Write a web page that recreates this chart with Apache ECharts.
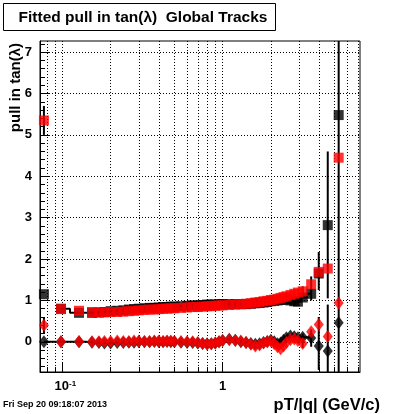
<!DOCTYPE html>
<html><head><meta charset="utf-8">
<script src="https://cdn.jsdelivr.net/npm/echarts@6/dist/echarts.min.js"></script>
<style>html,body{margin:0;padding:0;background:#fff}#c{width:400px;height:414px}</style>
</head><body><div id="c"></div>
<script>
// ---- data ----
const pT = [0.0767, 0.098, 0.127, 0.153, 0.169, 0.183, 0.20, 0.22, 0.24, 0.26, 0.28, 0.30, 0.325, 0.35, 0.375, 0.40, 0.425, 0.45, 0.475, 0.50,
  0.55, 0.60, 0.65, 0.70, 0.75, 0.80, 0.85, 0.90, 0.95, 1.0, 1.1, 1.2, 1.3, 1.4, 1.5, 1.6, 1.7, 1.8, 1.9, 2.0,
  2.1, 2.2, 2.3, 2.4, 2.5, 2.65, 2.8, 2.95, 3.16, 3.57, 3.98, 4.53, 5.3];
const redSigma = [5.35, 0.79, 0.75, 0.72, 0.71, 0.71, 0.72, 0.72, 0.73, 0.74, 0.75, 0.76, 0.77, 0.78, 0.78, 0.79, 0.80, 0.80, 0.81, 0.81,
  0.82, 0.83, 0.84, 0.84, 0.85, 0.86, 0.86, 0.87, 0.88, 0.88, 0.89, 0.90, 0.91, 0.92, 0.93, 0.95, 0.96, 0.98, 0.99, 1.01,
  1.02, 1.04, 1.06, 1.08, 1.10, 1.13, 1.16, 1.19, 1.22, 1.39, 1.69, 1.77, 4.45];
const blackSigma = [1.15, 0.80, 0.70, 0.70, 0.71, 0.72, 0.74, 0.75, 0.76, 0.78, 0.79, 0.80, 0.81, 0.82, 0.82, 0.83, 0.84, 0.84, 0.85, 0.85,
  0.86, 0.87, 0.88, 0.88, 0.89, 0.90, 0.90, 0.90, 0.91, 0.91, 0.91, 0.91, 0.91, 0.91, 0.92, 0.93, 0.94, 0.95, 0.96, 0.98,
  0.99, 1.00, 1.01, 1.02, 1.03, 1.00, 0.98, 0.97, 1.07, 1.16, 1.65, 2.82, 5.48];
const redMean = [0.40, 0.00, 0.01, 0.00, 0.00, 0.01, 0.01, 0.02, 0.01, 0.01, 0.02, 0.02, 0.01, 0.01, 0.02, 0.02, 0.01, 0.02, 0.02, 0.01,
  0.01, 0.00, 0.00, -0.02, -0.04, -0.06, -0.05, -0.03, 0.00, 0.03, 0.05, 0.03, 0.02, -0.02, -0.06, -0.10, -0.08, -0.03, 0.00, 0.02,
  -0.05, -0.12, -0.17, -0.10, -0.02, 0.05, 0.07, 0.03, -0.04, 0.24, 0.42, 0.13, 0.94];
const blackMean = [0.00, 0.00, 0.00, -0.01, -0.02, -0.03, -0.03, -0.02, -0.02, -0.01, -0.01, 0.00, 0.00, 0.00, 0.01, 0.00, 0.00, 0.01, 0.00, 0.00,
  -0.01, -0.02, -0.02, -0.03, -0.04, -0.05, -0.05, -0.03, 0.00, 0.03, 0.06, 0.04, 0.00, -0.02, -0.04, -0.06, -0.05, -0.02, 0.01, 0.04,
  0.00, -0.05, -0.03, 0.04, 0.10, 0.14, 0.12, 0.10, 0.11, 0.09, -0.10, -0.22, 0.46];
// vertical error bars: [pT, low, high]
const errorBars = [[0.0767, 5.0, 5.7], [0.0767, 0.2, 0.6], [3.16, 1.1, 1.34], [3.16, -0.15, 0.2], [3.57, 1.0, 1.58], [3.57, -0.12, 0.3],
  [3.98, 1.25, 2.17], [3.98, -0.68, 0.6], [4.53, 1.05, 4.6], [4.53, -1.5, 0.9], [5.3, -1.5, 8.5]];
// axis ticks / grid
const xGrid = [0.08, 0.09, 0.1, 0.2, 0.3, 0.4, 0.5, 0.6, 0.7, 0.8, 0.9, 1, 2, 3, 4, 5, 6, 7];
const xMinorTicks = [0.08, 0.09, 0.2, 0.3, 0.4, 0.5, 0.6, 0.7, 0.8, 0.9, 2, 3, 4, 5, 6, 7];
const yMajor = [0, 1, 2, 3, 4, 5, 6, 7];
const yMinor = [-0.6, -0.4, -0.2, 0.2, 0.4, 0.6, 0.8, 1.2, 1.4, 1.6, 1.8, 2.2, 2.4, 2.6, 2.8, 3.2, 3.4, 3.6, 3.8,
  4.2, 4.4, 4.6, 4.8, 5.2, 5.4, 5.6, 5.8, 6.2, 6.4, 6.6, 6.8, 7.2];

// ---- chart ----
const FONT = '"Liberation Sans", Arial, Helvetica, sans-serif';
const xMin = 0.0725, xMax = 7.2, yMin = -0.73, yMax = 7.27;
const denseEnd = pT.indexOf(3.57) + 1;
const pts = (ys, a, b) => pT.slice(a, b).map((x, i) => [x, ys[a + i]]);

const chart = echarts.init(document.getElementById('c'), null, {renderer: 'canvas'});
const option = {
  animation: false,
  backgroundColor: '#fff',
  grid: {left: 40, top: 41, width: 320, height: 331, show: true, borderColor: '#000', borderWidth: 1,
         backgroundColor: 'transparent', containLabel: false, outerBoundsMode: 'none'},
  xAxis: [{
    type: 'log', logBase: 10, min: xMin, max: xMax,
    axisLine: {show: true, onZero: false, lineStyle: {color: '#000', width: 1}},
    axisTick: {show: true, inside: true, length: 10, lineStyle: {color: '#000'}},
    minorTick: {show: false}, splitLine: {show: false},
    axisLabel: {
      showMinLabel: false, showMaxLabel: false, margin: 8, color: '#000',
      formatter: v => Math.abs(v - 0.1) < 1e-6 ? '{b|10}{s|-1}' : (Math.abs(v - 1) < 1e-6 ? '{c|1}' : ''),
      rich: {
        b: {fontSize: 13, fontWeight: 'bold', fontFamily: FONT, color: '#000', padding: [0, 0, 0, 6]},
        c: {fontSize: 13, fontWeight: 'bold', fontFamily: FONT, color: '#000'},
        s: {fontSize: 8, fontWeight: 'bold', fontFamily: FONT, color: '#000', verticalAlign: 'top'}
      }
    }
  }],
  yAxis: [{
    type: 'value', min: yMin, max: yMax,
    axisLine: {show: true, onZero: false, lineStyle: {color: '#000', width: 1}},
    axisTick: {show: true, inside: true, length: 10, customValues: yMajor, lineStyle: {color: '#000'}},
    axisLabel: {customValues: yMajor, fontSize: 13, fontWeight: 'bold', fontFamily: FONT, color: '#000', margin: 8},
    splitLine: {show: false}
  }, {
    type: 'value', min: yMin, max: yMax, position: 'left', offset: 0,
    axisLine: {show: false},
    axisTick: {show: true, inside: true, length: 5, customValues: yMinor, lineStyle: {color: '#000'}},
    axisLabel: {show: false}, splitLine: {show: false}
  }],
  series: [
    { // dotted grid
      type: 'line', data: [], z: 1, silent: true,
      markLine: {
        silent: true, symbol: ['none', 'none'], label: {show: false}, emphasis: {disabled: true},
        lineStyle: {color: '#000', width: 1, type: [1, 2]},
        data: xGrid.map(v => ({xAxis: v})).concat(yMajor.map(v => ({yAxis: v})))
      }
    },
    { // minor x ticks
      type: 'line', data: [], z: 1, silent: true,
      markLine: {
        silent: true, symbol: ['none', 'none'], label: {show: false}, emphasis: {disabled: true},
        lineStyle: {color: '#000', width: 1, type: 'solid'},
        data: xMinorTicks.map(v => [{coord: [v, yMin]}, {coord: [v, yMin + 0.12]}])
      }
    },
    { // black x-error bars (sigma)
      type: 'line', step: 'middle', showSymbol: false, symbol: 'none', z: 2, silent: true,
      lineStyle: {color: '#000', width: 2}, data: pts(blackSigma, 1, denseEnd)
    },
    { // black x-error bars (mean)
      type: 'line', step: 'middle', showSymbol: false, symbol: 'none', z: 2, silent: true,
      lineStyle: {color: '#000', width: 2}, data: pts(blackMean, 0, denseEnd)
    },
    { // vertical error bars
      type: 'custom', z: 3, silent: true, data: errorBars,
      encode: {x: 0, y: [1, 2]},
      renderItem: (params, api) => {
        const x = api.value(0);
        const p1 = api.coord([x, api.value(1)]);
        const p2 = api.coord([x, api.value(2)]);
        const cs = params.coordSys;
        const cl = y => Math.max(cs.y, Math.min(cs.y + cs.height, y));
        return {type: 'line', shape: {x1: p1[0], y1: cl(p1[1]), x2: p2[0], y2: cl(p2[1])},
                style: {stroke: '#000', lineWidth: 2}};
      }
    },
    {type: 'scatter', z: 4, symbol: 'rect', symbolSize: 10, itemStyle: {color: '#000'}, data: pts(blackSigma, 0, pT.length)},
    {type: 'scatter', z: 4, symbol: 'diamond', symbolSize: [10, 13], itemStyle: {color: '#000'}, data: pts(blackMean, 0, pT.length)},
    {type: 'scatter', z: 5, symbol: 'rect', symbolSize: 10, itemStyle: {color: '#ff0000'}, data: pts(redSigma, 0, pT.length)},
    {type: 'scatter', z: 5, symbol: 'diamond', symbolSize: [10, 13], itemStyle: {color: '#ff0000'}, data: pts(redMean, 0, pT.length)}
  ],
  graphic: [
    {type: 'rect', z: 10, shape: {x: 3.5, y: 3.5, width: 272, height: 27}, style: {fill: '#fff', stroke: '#000', lineWidth: 1}},
    {type: 'text', z: 11, x: 143, y: 17.5, style: {text: 'Fitted pull in tan(λ)  Global Tracks', fontSize: 15.5, fontWeight: 'bold', fontFamily: FONT,
      fill: '#000', align: 'center', verticalAlign: 'middle'}},
    {type: 'text', z: 11, x: 16, y: 43, rotation: Math.PI / 2, style: {text: 'pull in tan(λ)', fontSize: 15, fontWeight: 'bold', fontFamily: FONT,
      fill: '#000', align: 'right', verticalAlign: 'middle'}},
    {type: 'text', z: 11, x: 380, y: 405, style: {text: 'pT/|q| (GeV/c)', fontSize: 16.5, fontWeight: 'bold', fontFamily: FONT,
      fill: '#000', align: 'right', verticalAlign: 'middle'}},
    {type: 'text', z: 11, x: 3, y: 405, style: {text: 'Fri Sep 20 09:18:07 2013', fontSize: 9, fontWeight: 'bold', fontFamily: FONT,
      fill: '#000', align: 'left', verticalAlign: 'middle'}}
  ]
};
chart.setOption(option);
</script></body></html>
